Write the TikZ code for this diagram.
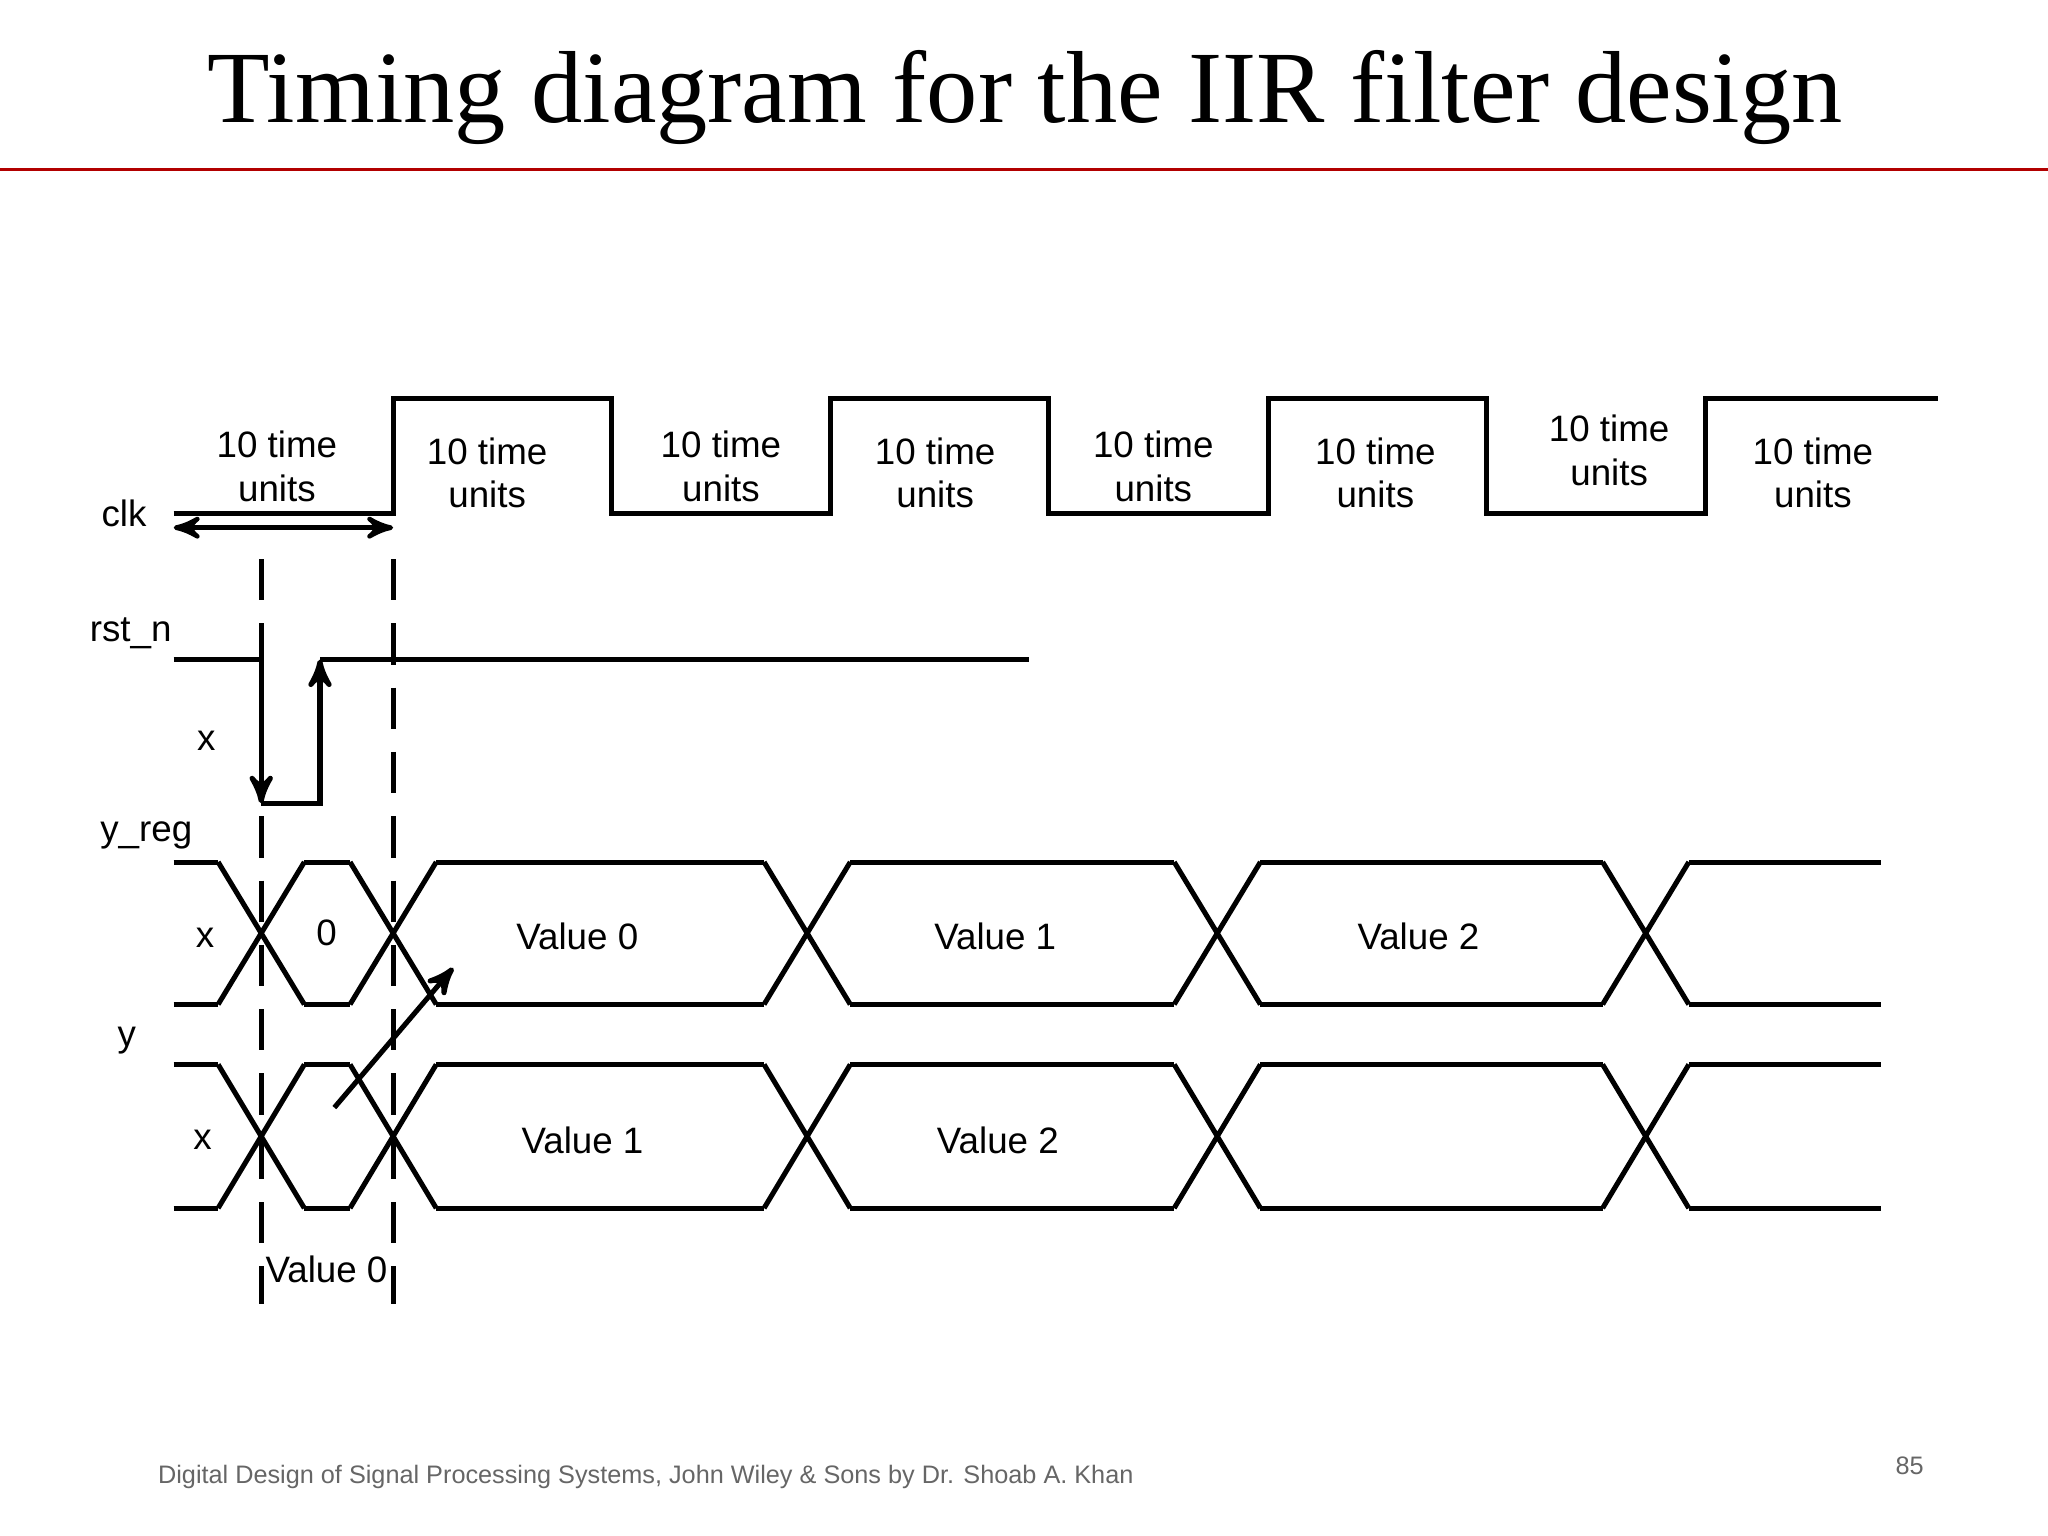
\documentclass[tikz,border=0pt]{standalone}
\usepackage{fontspec}
\setmainfont{Liberation Serif}
\newfontfamily\lsans{Liberation Sans}
\usetikzlibrary{arrows}

\begin{document}
\begin{tikzpicture}[x=0.01cm,y=-0.01cm,semithick,>=stealth']
        \tikzstyle{sig}=[line width=1.1pt,black]
        \tikzstyle{lbl}=[font=\lsans\fontsize{8}{9.5}\selectfont,align=center,inner sep=0pt]
        \tikzstyle{guide}=[line width=1.1pt,dash pattern=on 9pt off 5pt]
        \useasboundingbox (0,0) rectangle (1568,1176);

        % title
        \node[font=\fontsize{22.3}{25}\selectfont] (title) at (785,75) {Timing diagram for the IIR filter design};
        \draw[red!70!black,line width=0.6pt] (0,130) -- (1568,130);

        % clk
        \node[lbl] (clk) at (95,393) {clk};
        \draw[sig] (133,393) -- (301,393)
              \foreach \x in {301,636,971} {-- (\x,393) -- (\x,305) -- ({\x+167},305) -- ({\x+167},393)}
              -- (1306,393) -- (1306,305) -- (1484,305);
        \foreach \x/\y [count=\i] in {212/357,373/362,552/357,716/362,883/357,1053/362,1232/345,1388/362}
            \node[lbl] (t\i) at (\x,\y) {10 time\\units};
        \coordinate (p0) at (133,404);
        \coordinate (p1) at (301,404);
        \draw[<->,line width=1pt] (p0) -- (p1);

        % guides
        \draw[guide] (200,428) -- (200,998);
        \draw[guide] (301,428) -- (301,998);

        % rst_n
        \node[lbl] (rst) at (100,485) {rst\_n};
        \node[lbl] (rx) at (158,567) {x};
        \draw[sig,->] (133,505) -- (200,505) -- (200,615);
        \draw[sig,->] (200,615) -- (245,615) -- (245,505);
        \draw[sig] (245,505) -- (788,505);

        % y_reg and y
        \node[lbl] (yreg) at (112,640) {y\_reg};
        \node[lbl] (y) at (97,797) {y};
        \foreach \t/\b in {660/769,815/925} {
            \foreach \l/\r in {133/167,233/268,334/585,651/899,965/1227,1293/1440}
                \draw[sig] (\l,\t) -- (\r,\t) (\l,\b) -- (\r,\b);
            \foreach \c in {200,301,618,932,1260}
                \draw[sig] ({\c-33},\t) -- ({\c+33},\b) ({\c-33},\b) -- ({\c+33},\t);
        }
        \node[lbl] (rx1) at (157,718) {x};
        \node[lbl] (r0) at (250,714) {0};
        \node[lbl] (rv0) at (442,717) {Value 0};
        \node[lbl] (rv1) at (762,717) {Value 1};
        \node[lbl] (rv2) at (1086,717) {Value 2};
        \node[lbl] (yx) at (155,873) {x};
        \node[lbl] (yv1) at (446,873) {Value 1};
        \node[lbl] (yv2) at (764,873) {Value 2};
        \node[lbl] (yv0) at (250,972) {Value 0};
        \coordinate (a0) at (256,848);
        \coordinate (a1) at (347,741);
        \draw[sig,->] (a0) -- (a1);

        % footer
        \node[font=\lsans\fontsize{5.5}{7}\selectfont,text=black!60,anchor=west,inner sep=0pt] (foot) at (120,1131)
            {Digital Design of Signal Processing Systems, John Wiley \& Sons by Dr. Shoab A. Khan};
        \node[font=\lsans\fontsize{5.5}{7}\selectfont,text=black!60,inner sep=0pt] (page) at (1462,1122) {85};
\end{tikzpicture}
\end{document}
